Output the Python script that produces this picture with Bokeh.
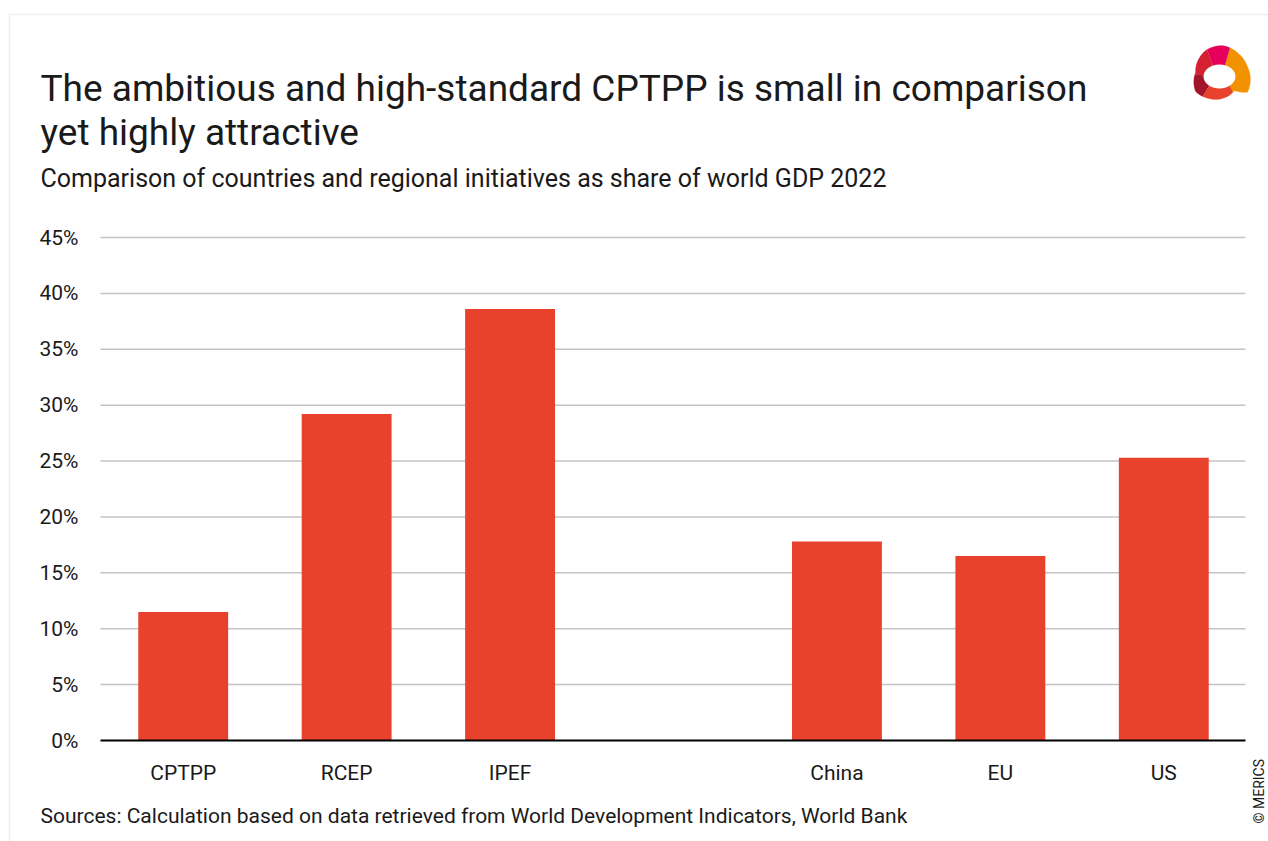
import numpy as np
from bokeh.plotting import figure
from bokeh.models import Range1d, Label, BoxAnnotation, PolyAnnotation, ColumnDataSource, FixedTicker, LinearAxis
from bokeh.embed import file_html
from bokeh.resources import INLINE

# ---- data ----
factors = ["CPTPP", "RCEP", "IPEF", "", "China", "EU", "US"]
bar_categories = ["CPTPP", "RCEP", "IPEF", "China", "EU", "US"]
bar_values = [11.5, 29.2, 38.6, 17.8, 16.5, 25.3]
y_ticks = [0, 5, 10, 15, 20, 25, 30, 35, 40, 45]
y_tick_labels = ["0%", "5%", "10%", "15%", "20%", "25%", "30%", "35%", "40%", "45%"]

title_line1 = "The ambitious and high-standard CPTPP is small in comparison"
title_line2 = "yet highly attractive"
subtitle = "Comparison of countries and regional initiatives as share of world GDP 2022"
source_text = "Sources: Calculation based on data retrieved from World Development Indicators, World Bank"
credit = "\u00a9 MERICS"

FONT = "Roboto"
TXT = "#1a1a1a"
BAR = "#E8412C"
GRID = "#c4c4c4"

W, H = 1268, 841
# plot area in pixels
PX_L, PX_R, PX_Y0, PX_Y45 = 101, 1245, 740, 237
SX = (PX_R - PX_L) / len(factors)
SY = (PX_Y0 - PX_Y45) / 45.0

def dx(px):
    return (px - PX_L) / SX
def dy(py):
    return (PX_Y0 - py) / SY

p = figure(x_range=Range1d(dx(0), dx(W)), y_range=Range1d(dy(H), dy(0)),
           width=W, height=H, output_backend="svg", toolbar_location=None,
           x_axis_location=None, y_axis_location=None,
           min_border=0, min_border_left=0, min_border_right=0, min_border_top=0, min_border_bottom=0)
p.background_fill_color = "white"
p.border_fill_color = "white"
p.outline_line_color = None
p.xgrid.visible = False
p.ygrid.visible = False

# category positions (slot centres)
cat_pos = {c: i + 0.5 for i, c in enumerate(factors)}
bar_x = [cat_pos[c] for c in bar_categories]

# horizontal grid lines across the plot area
grid_src = ColumnDataSource(dict(y=y_ticks[1:], x0=[dx(100)] * (len(y_ticks) - 1), x1=[len(factors)] * (len(y_ticks) - 1)))
p.segment(x0="x0", y0="y", x1="x1", y1="y", source=grid_src, line_color=GRID, line_width=1.5)

src = ColumnDataSource(dict(x=bar_x, val=bar_values, cat=bar_categories))
p.vbar(x="x", top="val", width=0.55, source=src, fill_color=BAR, line_color=None)

yaxis = LinearAxis(fixed_location=dx(100), ticker=FixedTicker(ticks=y_ticks),
                   major_label_overrides={t: l for t, l in zip(y_ticks, y_tick_labels)})
yaxis.axis_line_color = None
yaxis.major_tick_line_color = None
yaxis.minor_tick_line_color = None
yaxis.major_label_standoff = 16
yaxis.major_label_text_font = FONT
yaxis.major_label_text_font_size = "21px"
yaxis.major_label_text_color = TXT
p.add_layout(yaxis, "left")

xaxis = LinearAxis(fixed_location=0, ticker=FixedTicker(ticks=bar_x),
                   major_label_overrides={cat_pos[c]: c for c in bar_categories},
                   bounds=(dx(100), len(factors)))
xaxis.axis_line_color = "black"
xaxis.axis_line_width = 2
xaxis.major_tick_line_color = None
xaxis.minor_tick_line_color = None
xaxis.major_label_standoff = 14
xaxis.major_label_text_font = FONT
xaxis.major_label_text_font_size = "21px"
xaxis.major_label_text_color = TXT
p.add_layout(xaxis, "below")

def add_text(txt, px, py, size, angle=0.0, align="left"):
    p.add_layout(Label(x=dx(px), y=dy(py), text=txt, text_font=FONT, text_font_size=size,
                       text_color=TXT, text_baseline="alphabetic", text_align=align, angle=angle))

add_text(title_line1, 40, 88, "37px")
add_text(title_line2, 40, 132, "37px")
add_text(subtitle, 40, 178, "25px")
add_text(source_text, 40, 815, "21px")
add_text(credit, 1258, 823, "14px", angle=np.pi / 2)

# frame border (top + left)
p.add_layout(BoxAnnotation(left=dx(9), right=dx(1400), top=dy(14), bottom=dy(1000),
                           fill_alpha=0, line_color="#c8c8c8", line_width=1.5))

# logo
cx, cy = 1219.0, 76.0
outer = [(1205, 50), (1222, 45), (1238, 53), (1247, 66), (1250, 80), (1247, 92),
         (1234, 90), (1222, 98), (1208, 98), (1195, 91), (1195, 72), (1199, 57)]
oang = np.array([np.arctan2(y - cy, x - cx) for x, y in outer])
orad = np.array([np.hypot(x - cx, y - cy) for x, y in outer])
order = np.argsort(oang)
oang, orad = oang[order], orad[order]
def outer_r(a):
    return np.interp(a, oang, orad, period=2 * np.pi)
rx, ry = 16.0, 12.0
sectors = [(-70, 50, "#F39200"), (-115, -70, "#E6005C"), (-175, -115, "#D42030"),
           (130, 185, "#A3162A"), (50, 130, "#E8412C")]
for a0, a1, col in sectors:
    ang = np.radians(np.linspace(a0, a1, 30))
    r = outer_r(np.mod(ang + np.pi, 2 * np.pi) - np.pi)
    ox = cx + r * np.cos(ang)
    oy = cy + r * np.sin(ang)
    ix = cx + rx * np.cos(ang[::-1])
    iy = cy + ry * np.sin(ang[::-1])
    xs = [dx(v) for v in np.concatenate([ox, ix])]
    ys = [dy(v) for v in np.concatenate([oy, iy])]
    p.add_layout(PolyAnnotation(xs=xs, ys=ys, fill_color=col, fill_alpha=1, line_color=col, line_width=0.5))

open("out.html", "w").write(file_html(p, INLINE))
